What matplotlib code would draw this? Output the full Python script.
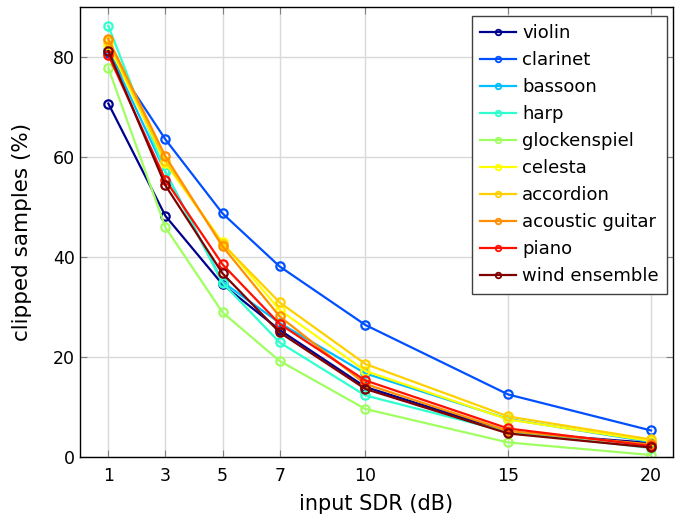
import matplotlib
matplotlib.use('Agg')
import matplotlib.pyplot as plt

sdr = [1, 3, 5, 7, 10, 15, 20]

instruments = ['violin', 'clarinet', 'bassoon', 'harp', 'glockenspiel',
               'celesta', 'accordion', 'acoustic guitar', 'piano', 'wind ensemble']

violin = [70.7, 48.2, 34.5, 25.4, 14.0, 5.0, 2.8]
clarinet = [80.8, 63.5, 48.7, 38.1, 26.4, 12.5, 5.3]
bassoon = [81.5, 57.0, 35.0, 26.8, 16.7, 7.6, 3.0]
harp = [86.2, 56.9, 34.8, 22.9, 12.3, 5.0, 1.8]
glockenspiel = [77.8, 45.9, 28.9, 19.2, 9.6, 2.9, 0.4]
celesta = [82.5, 58.8, 42.9, 29.4, 17.2, 7.5, 3.2]
accordion = [83.2, 59.2, 42.6, 30.9, 18.6, 8.1, 3.5]
acoustic_guitar = [83.6, 60.1, 42.1, 28.1, 14.6, 5.2, 2.5]
piano = [80.4, 55.4, 38.5, 26.6, 15.3, 5.7, 2.2]
wind_ensemble = [81.2, 54.3, 36.7, 24.9, 13.6, 4.7, 1.9]

values = [violin, clarinet, bassoon, harp, glockenspiel,
          celesta, accordion, acoustic_guitar, piano, wind_ensemble]

colors = ['#00008f', '#0050ff', '#00bfff', '#30ffcf', '#a0ff60',
          '#ffff00', '#ffd000', '#ff8f00', '#ff1000', '#800000']

plt.rcParams['font.family'] = 'DejaVu Sans'

fig = plt.figure(figsize=(6.76, 5.19), dpi=100)
ax = fig.add_axes([0.118, 0.1195, 0.8776, 0.867])

for name, vals, c in zip(instruments, values, colors):
    ax.plot(sdr, vals, '-o', color=c, label=name, lw=1.6,
            markersize=6, markerfacecolor='none', markeredgewidth=1.6)

ax.set_xlim(0, 20.77)
ax.set_ylim(0, 90)
ax.set_xticks(sdr)
ax.set_yticks([0, 20, 40, 60, 80])
ax.grid(True, color='#d9d9d9', lw=1)
ax.set_axisbelow(True)
ax.tick_params(direction='in', top=True, right=True, length=5,
               color='#808080', labelsize=12.5)
ax.tick_params(axis='x', pad=7)
for s in ax.spines.values():
    s.set_linewidth(1.0)

ax.set_xlabel('input SDR (dB)', fontsize=15, labelpad=7)
ax.set_ylabel('clipped samples (%)', fontsize=15.5, labelpad=15)

leg = ax.legend(loc='upper right', bbox_to_anchor=(0.99, 0.98), borderaxespad=0,
                fontsize=13, fancybox=False, edgecolor='#404040', framealpha=1,
                handlelength=2.0, handletextpad=0.35, labelspacing=0.5,
                borderpad=0.45)
leg.get_frame().set_linewidth(1.0)
for h in leg.legend_handles:
    h.set_markersize(4)
    h.set_markeredgewidth(1.3)

fig.savefig('out.png', dpi=100)
